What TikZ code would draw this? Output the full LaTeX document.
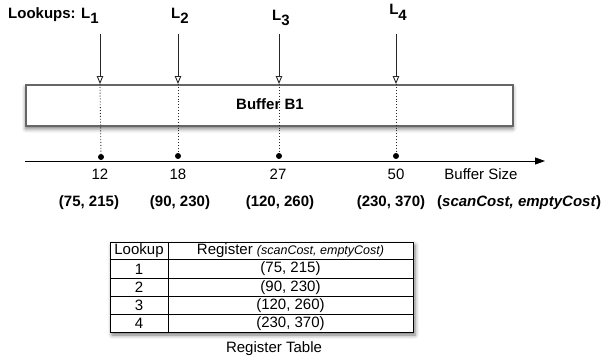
\documentclass[tikz,border=0pt]{standalone}
\usepackage{fontspec}
\setmainfont{Liberation Sans}
\usetikzlibrary{arrows.meta,shadows.blur}
\newcommand{\Lsub}[1]{L\raisebox{-0.38em}{#1}}
\begin{document}
\begin{tikzpicture}[x=1pt,y=-1pt,
  lbl/.style={font=\fontsize{15}{17}\selectfont\bfseries, inner sep=0pt},
  num/.style={font=\fontsize{15}{17}\selectfont, inner sep=0pt},
  cost/.style={font=\fontsize{15}{17}\selectfont\bfseries, inner sep=0pt},
  tab/.style={font=\fontsize{15}{17}\selectfont, inner sep=0pt},
  lookarrow/.style={draw=black!85, line width=0.9pt, -{Triangle[open,length=8pt,width=6.5pt]}},
  dotline/.style={draw=black!85, line width=0.9pt, dotted},
  pt/.style={circle, fill=black, inner sep=0pt, minimum size=6pt},
  tline/.style={draw=black, line width=0.9pt}]
\useasboundingbox (0,0) rectangle (603,364);

% buffer box
\node[draw=black!60, line width=1.5pt, fill=white, minimum width=487pt, minimum height=41pt,
  blur shadow={shadow xshift=0pt, shadow yshift=-3pt, shadow blur radius=4pt, shadow opacity=55},
  anchor=north west, inner sep=0pt] (buf) at (25,84) {};
\node[lbl] (buftext) at (270,104) {Buffer B1};

% lookup labels
\node[lbl, anchor=base west] (l1) at (8,18) {Lookups: \Lsub{1}};
\node[lbl, anchor=base] (l2) at (180,18) {\Lsub{2}};
\node[lbl, anchor=base] (l3) at (281,20) {\Lsub{3}};
\node[lbl, anchor=base] (l4) at (398,15) {\Lsub{4}};

% arrow start coordinates and hit points on box
\foreach \i/\x in {1/100,2/178,3/279,4/396}{
  \coordinate (s\i) at (\x,34);
  \coordinate (h\i) at (\x,84);
}
\foreach \i in {1,...,4}{ \draw[lookarrow] (s\i) -- (h\i); }

% dots on axis
\node[pt] (d1) at (101,157) {};
\node[pt] (d2) at (178,156) {};
\node[pt] (d3) at (279,156) {};
\node[pt] (d4) at (396,156) {};
\foreach \i in {1,...,4}{ \draw[dotline] (h\i) -- (d\i); }

% axis
\coordinate (ax0) at (25,161);
\coordinate (ax1) at (545,161);
\draw[line width=0.9pt, -{Triangle[length=10pt,width=7pt]}] (ax0) -- (ax1);

% numbers
\node[num] (n1) at (100,174) {12};
\node[num] (n2) at (178,174) {18};
\node[num] (n3) at (278,174) {27};
\node[num] (n4) at (396,174) {50};
\node[num] (bs) at (481,174) {Buffer Size};

% costs
\node[cost] (c1) at (89,203) {(75, 215)};
\node[cost] (c2) at (180,203) {(90, 230)};
\node[cost] (c3) at (280,203) {(120, 260)};
\node[cost] (c4) at (391,203) {(230, 370)};
\node[cost, anchor=west] (c5) at (437,203) {(\textit{scanCost, emptyCost})};

% register table
\path[fill=white, blur shadow={shadow xshift=2pt, shadow yshift=-3pt, shadow blur radius=4pt, shadow opacity=55}]
  (110,242) rectangle (413,332);
\draw[tline] (110,242) rectangle (413,332);
\draw[tline] (168,242) -- (168,332);
\foreach \y in {259,278,296,314}{ \draw[tline] (110,\y) -- (413,\y); }
\node[tab] (th1) at (139,251) {Lookup};
\node[tab] (th2) at (290.5,251) {Register {\fontsize{12.5}{14}\selectfont\itshape (scanCost, emptyCost)}};
\node[tab] (tl1) at (139,269) {1};
\node[tab] (tr1) at (290.5,269) {(75, 215)};
\node[tab] (tl2) at (139,287.5) {2};
\node[tab] (tr2) at (290.5,287.5) {(90, 230)};
\node[tab] (tl3) at (139,305.5) {3};
\node[tab] (tr3) at (290.5,305.5) {(120, 260)};
\node[tab] (tl4) at (139,323.5) {4};
\node[tab] (tr4) at (290.5,323.5) {(230, 370)};
\node[num] (cap) at (274,349) {Register Table};
\end{tikzpicture}
\end{document}
